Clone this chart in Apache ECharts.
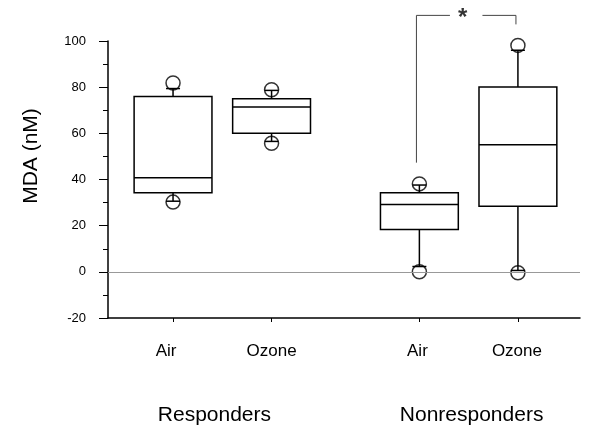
<!DOCTYPE html>
<html>
<head>
<meta charset="utf-8">
<script src="https://cdn.jsdelivr.net/npm/echarts@6/dist/echarts.min.js"></script>
<style>html,body{margin:0;padding:0;background:#fff}#c{width:600px;height:440px}</style>
</head>
<body>
<div id="c"></div>
<script>
// ---- data ----
const categories = ['Air', 'Ozone', 'Air', 'Ozone'];
const groups = ['Responders', 'Nonresponders'];
const positions = [1, 2, 3.5, 4.5];
const labelPositions = [0.93, 2, 3.48, 4.49];
const groupPositions = [1.42, 4.03];
const whiskerLow  = [30.6, 56.5, 2.3, 0.6];
const q1          = [34.3, 60.0, 18.3, 28.4];
const median      = [40.8, 71.4, 29.2, 55.1];
const q3          = [76.0, 75.0, 34.3, 80.1];
const whiskerHigh = [79.4, 78.6, 37.6, 96.0];
const outlierLow  = [30.2, 55.7, 0.0, -0.4];
const outlierHigh = [81.8, 78.9, 38.1, 98.1];
const yTicks = [-20, 0, 20, 40, 60, 80, 100];
const bracketLeft = [[3.47, 47.3], [3.47, 111.1], [3.81, 111.1]];
const bracketRight = [[4.14, 111.1], [4.48, 111.1], [4.48, 107.2]];
const starPos = [3.94, 109.9];

const FONT = '"Liberation Sans", Arial, Helvetica, sans-serif';
const boxData = positions.map((p, i) => [p, whiskerLow[i], q1[i], median[i], q3[i], whiskerHigh[i]]);
const outData = [];
positions.forEach((p, i) => { outData.push([p, outlierLow[i]]); outData.push([p, outlierHigh[i]]); });

const chart = echarts.init(document.getElementById('c'), null, {renderer: 'canvas'});
const BOX_W = 0.79;
chart.setOption({
  animation: false,
  backgroundColor: '#fff',
  grid: {left: 108, right: 20, top: 41, bottom: 122, containLabel: false},
  xAxis: [{
    type: 'value', min: 0.34, max: 5.13,
    axisLine: {show: true, onZero: false, lineStyle: {color: '#000', width: 1.5}},
    axisTick: {show: true, length: 4, customValues: positions, lineStyle: {color: '#000', width: 1}},
    axisLabel: {show: true, customValues: labelPositions, margin: 25, color: '#000', fontSize: 17, fontFamily: FONT,
      formatter: v => { const i = labelPositions.indexOf(v); return i >= 0 ? categories[i] : ''; }},
    splitLine: {show: false}
  }, {
    type: 'value', min: 0.34, max: 5.13, position: 'bottom',
    axisLine: {show: false, onZero: false}, axisTick: {show: false},
    axisLabel: {show: true, customValues: groupPositions, margin: 87, color: '#000', fontSize: 21, fontFamily: FONT,
      formatter: v => { const i = groupPositions.indexOf(v); return i >= 0 ? groups[i] : ''; }},
    splitLine: {show: false}
  }],
  yAxis: {
    type: 'value', min: yTicks[0], max: yTicks[yTicks.length - 1], interval: 20,
    axisLine: {show: true, onZero: false, lineStyle: {color: '#000', width: 1.5}},
    axisTick: {show: true, length: 9, lineStyle: {color: '#000', width: 1}},
    minorTick: {show: true, splitNumber: 2, length: 5, lineStyle: {color: '#000', width: 1}},
    axisLabel: {margin: 22, color: '#000', fontSize: 13, fontFamily: FONT},
    splitLine: {show: false}
  },
  graphic: [{
    type: 'text', x: 31, y: 156, rotation: Math.PI / 2,
    style: {text: 'MDA (nM)', font: '21px ' + FONT, fill: '#000', textAlign: 'center', textVerticalAlign: 'middle'}
  }],
  series: [{
    type: 'custom',
    data: boxData,
    clip: false,
    renderItem: function (params, api) {
      const x = api.value(0);
      const lo = api.coord([x, api.value(1)]);
      const a = api.coord([x, api.value(2)]);
      const m = api.coord([x, api.value(3)]);
      const b = api.coord([x, api.value(4)]);
      const hi = api.coord([x, api.value(5)]);
      const hw = api.size([BOX_W, 0])[0] / 2;
      const cx = lo[0];
      const cap = 7;
      const st = {stroke: '#000', lineWidth: 1.5, fill: null};
      return {type: 'group', children: [
        {type: 'rect', shape: {x: cx - hw, y: b[1], width: 2 * hw, height: a[1] - b[1]}, style: st},
        {type: 'line', shape: {x1: cx - hw, y1: m[1], x2: cx + hw, y2: m[1]}, style: st},
        {type: 'line', shape: {x1: cx, y1: a[1], x2: cx, y2: lo[1]}, style: st},
        {type: 'line', shape: {x1: cx, y1: b[1], x2: cx, y2: hi[1]}, style: st},
        {type: 'line', shape: {x1: cx - cap, y1: lo[1], x2: cx + cap, y2: lo[1]}, style: st},
        {type: 'line', shape: {x1: cx - cap, y1: hi[1], x2: cx + cap, y2: hi[1]}, style: st}
      ]};
    },
    z: 3
  }, {
    type: 'scatter',
    data: outData,
    symbol: 'circle', symbolSize: 14,
    itemStyle: {color: 'rgba(0,0,0,0)', borderColor: '#000', borderWidth: 1.5},
    clip: false,
    z: 4,
    markLine: {
      silent: true, symbol: 'none', label: {show: false},
      lineStyle: {color: '#999', type: 'solid', width: 1},
      data: [{yAxis: 0}]
    }
  }, {
    type: 'line', data: bracketLeft, symbol: 'none', clip: false,
    lineStyle: {color: '#444', width: 1}
  }, {
    type: 'line', data: bracketRight, symbol: 'none', clip: false,
    lineStyle: {color: '#444', width: 1}
  }, {
    type: 'scatter', data: [starPos], symbol: 'circle', symbolSize: 2, clip: false,
    itemStyle: {color: 'rgba(0,0,0,0)'},
    label: {show: true, position: 'inside', formatter: '*', color: '#000', fontSize: 24, fontWeight: 'bold', fontFamily: FONT}
  }]
});
</script>
</body>
</html>
